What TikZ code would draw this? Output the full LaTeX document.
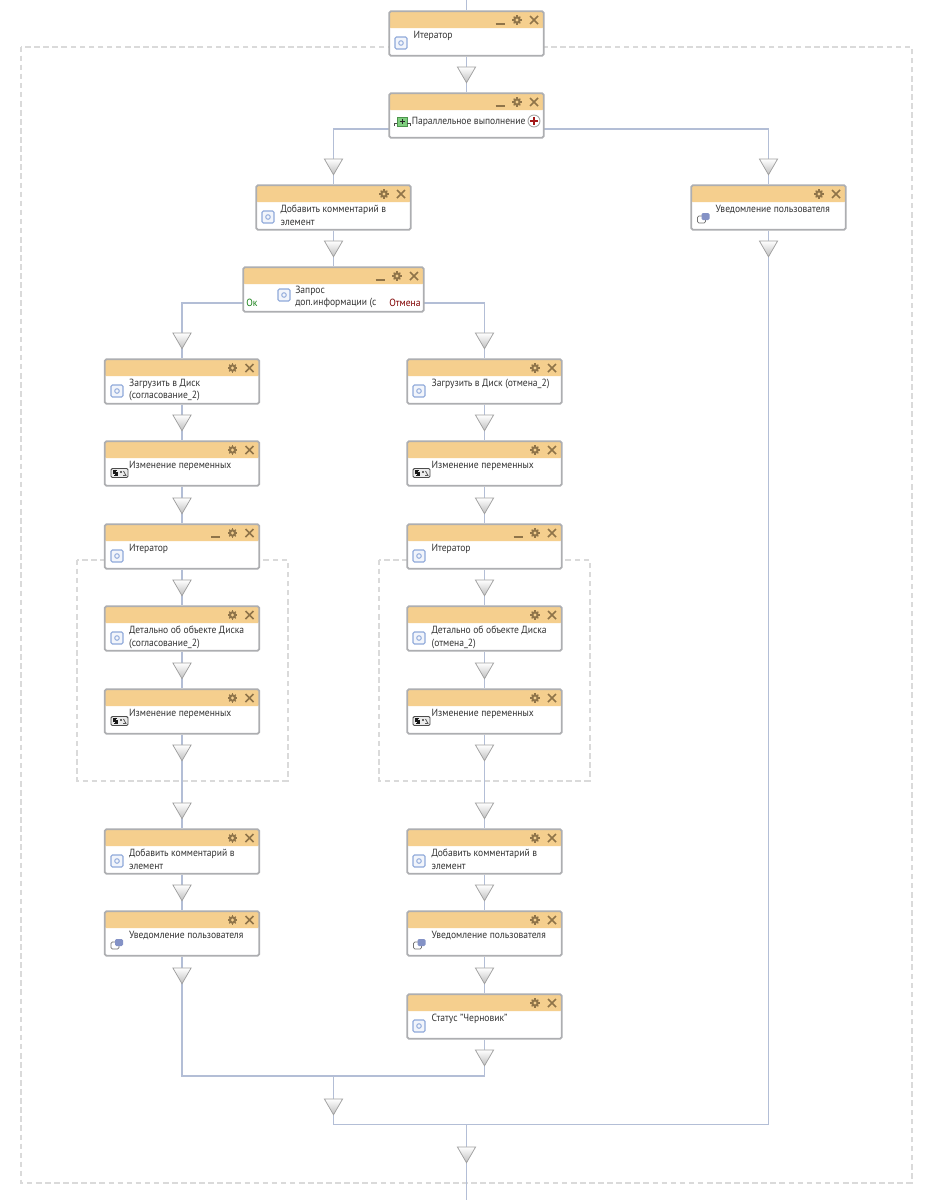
\documentclass[tikz,border=0pt]{standalone}
\usepackage{fontspec}
\setmainfont[FakeStretch=0.92]{PT Sans}
\usetikzlibrary{shapes.geometric}
\pgfdeclarelayer{bg}
\pgfsetlayers{bg,main}
\definecolor{hdr}{HTML}{F5CF8E}
\definecolor{edgeg}{HTML}{ADAEB1}
\definecolor{connc}{HTML}{B3BED6}
\definecolor{dashc}{HTML}{DADADA}
\definecolor{brown}{HTML}{8F7449}
\definecolor{txt}{HTML}{333333}
\definecolor{iconb}{HTML}{8FA9DA}
\definecolor{msgb}{HTML}{8492C6}
\tikzset{
  wfbox/.style={draw=edgeg,line width=1.3pt,rounded corners=1.2pt,fill=white,minimum height=33.4pt,inner sep=0pt,
    path picture={\fill[hdr] (path picture bounding box.north west) rectangle ([yshift=-12.75pt]path picture bounding box.north east);}},
  wftext/.style={anchor=north west,inner sep=0pt,align=left,text=txt,font=\fontsize{7.8}{9.2}\selectfont},
  conn/.style={draw=connc,line width=1.3pt},
  dashbox/.style={draw=dashc,line width=1.5pt,dash pattern=on 4.2pt off 2.6pt},
  tri/.style={regular polygon,regular polygon sides=3,shape border rotate=180,minimum size=15.8pt,inner sep=0pt,draw=gray!75,line width=.55pt,top color=white,bottom color=black!25},
  hicon/.style={draw=brown,line width=1.1pt},
}
% icons (x,y are the centre of the icon)
\newcommand\iconblue[2]{\draw[iconb,fill=iconb!12,line width=.8pt,rounded corners=1pt] ({#1-6},{#2-6}) rectangle ({#1+6},{#2+6});
  \draw[iconb,line width=.7pt] (#1,#2) circle (2.3);}
\newcommand\iconvar[2]{\draw[black!70,fill=black!8,line width=.7pt,rounded corners=1pt] ({#1-8.5},{#2-4.5}) rectangle ({#1+8.5},{#2+4.5});
  \draw[black!90,line width=.8pt] ({#1-2.5},{#2-2.2}) -- ({#1-5.5},{#2-2.2}) -- ({#1-5.5},{#2}) -- ({#1-2.5},{#2}) -- ({#1-2.5},{#2+2.2}) -- ({#1-5.5},{#2+2.2});
  \draw[black!90,line width=.5pt] ({#1-4},{#2-3.4}) -- ({#1-4},{#2+3.4});
  \fill[black!60] ({#1},{#2-2.5}) rectangle ({#1+2.5},{#2});
  \draw[black!65,line width=.6pt] ({#1+4},{#2-2}) -- ({#1+6.5},{#2+2.5}) -- ({#1+3.5},{#2+2.5});}
\newcommand\iconmsg[2]{\draw[black!55,fill=white,line width=.6pt,rounded corners=1pt] ({#1-6},{#2-1}) rectangle ({#1+2},{#2+6});
  \fill[msgb,rounded corners=1pt] ({#1-2},{#2-4}) rectangle ({#1+6},{#2+3});}
\newcommand\iconpar[2]{\fill[green!45!gray!70,draw=green!40!black!70,line width=.4pt] ({#1-5},{#2-4.5}) rectangle ({#1+5},{#2+4.5});
  \draw[black!85,line width=.7pt] ({#1-2.5},#2) -- ({#1+2.5},#2) ({#1},{#2-2.5}) -- ({#1},{#2+2.5});
  \draw[black!70,line width=.5pt] ({#1-7.5},{#2+4.5}) |- ({#1-5},{#2+2}) ({#1+5},{#2+2}) -| ({#1+8},{#2+4.5});}
% #1 name, #2 centre x, #3 top y, #4 width, #5 show minimise, #6 icon commands, #7 text x offset, #8 text
\newcommand\wfblock[8]{%
\begin{scope}[shift={(#2,#3)}]
 \pgfmathsetmacro\hw{#4/2}
 \node[wfbox,minimum width=(#4-.5)*.75pt] (#1) at (0,22.5) {};
 \draw[hicon] ({\hw-14},5) -- ({\hw-6},13) ({\hw-14},13) -- ({\hw-6},5);
 \fill[brown] ({\hw-27},9) circle (3.8);
 \foreach \a in {0,45,...,315}{\draw[brown,line width=1pt] ({\hw-27+3*cos(\a)},{9+3*sin(\a)}) -- ({\hw-27+4.7*cos(\a)},{9+4.7*sin(\a)});}
 \fill[hdr] ({\hw-27},9) circle (1.6);
 \ifnum#5=1 \draw[brown,line width=1.2pt] ({\hw-48.5},13) -- ({\hw-39.5},13);\fi
 #6
 \node[wftext] (#1-label) at ({-\hw+#7},20) {#8};
\end{scope}}
\newcommand\stdblock[6]{\wfblock{#1}{#2}{#3}{155}{#4}{#5}{24.4}{#6}}
\begin{document}
\begin{tikzpicture}[x=.75pt,y=-.75pt]
\useasboundingbox (0,0) rectangle (931,1200);
% dashed containers
\begin{pgfonlayer}{bg}
\fill[white] (0,0) rectangle (931,1200);
\draw[dashbox] (20.5,46.5) rectangle (911.5,1182.5);
\draw[dashbox] (77,559.5) rectangle (287.5,780.5);
\draw[dashbox] (379,559.5) rectangle (589.5,780.5);
\end{pgfonlayer}
% blocks
\stdblock{iter0}{466.5}{11}{1}{\iconblue{-65.5}{32}}{Итератор}
\wfblock{par}{466.5}{93}{155}{1}{\iconpar{-64.5}{28.5}\draw[black!35,fill=white,line width=.7pt] (67.5,28) circle (6);\draw[red!60!black!90,line width=1pt] (63.7,28) -- (71.3,28) (67.5,24.2) -- (67.5,31.8);}{23}{\phantom{}}
\node[wftext] (par-text) at (411.5,116.5) {Параллельное выполнение};
\stdblock{add0}{333.5}{185}{0}{\iconblue{-65.5}{32}}{Добавить комментарий в\\элемент}
\stdblock{notify0}{768.5}{185}{0}{\iconmsg{-65}{32}}{Уведомление пользователя}
\wfblock{req}{333.5}{267}{181}{1}{\iconblue{-49.5}{28}}{39}{\phantom{}}
\node[wftext] (req-text) at (295,285.5) {Запрос\\доп.информации (с};
\node[wftext,text=green!45!black!90] (req-ok) at (246,298.5) {Ок};
\node[wftext,text=red!50!black] (req-cancel) at (389,298.5) {Отмена};
% left column
\stdblock{l1}{182}{359}{0}{\iconblue{-65}{32}}{Загрузить в Диск\\(согласование\_2)}
\stdblock{l2}{182}{441}{0}{\iconvar{-62.5}{32}}{Изменение переменных}
\stdblock{l3}{182}{524}{1}{\iconblue{-65}{32}}{Итератор}
\stdblock{l4}{182}{606}{0}{\iconblue{-65}{32}}{Детально об объекте Диска\\(согласование\_2)}
\stdblock{l5}{182}{689}{0}{\iconvar{-62.5}{32}}{Изменение переменных}
\stdblock{l6}{182}{829}{0}{\iconblue{-65}{32}}{Добавить комментарий в\\элемент}
\stdblock{l7}{182}{911}{0}{\iconmsg{-65}{32}}{Уведомление пользователя}
% right column
\stdblock{r1}{484.5}{359}{0}{\iconblue{-65.5}{32}}{Загрузить в Диск (отмена\_2)}
\stdblock{r2}{484.5}{441}{0}{\iconvar{-63}{32}}{Изменение переменных}
\stdblock{r3}{484.5}{524}{1}{\iconblue{-65.5}{32}}{Итератор}
\stdblock{r4}{484.5}{606}{0}{\iconblue{-65.5}{32}}{Детально об объекте Диска\\(отмена\_2)}
\stdblock{r5}{484.5}{689}{0}{\iconvar{-63}{32}}{Изменение переменных}
\stdblock{r6}{484.5}{829}{0}{\iconblue{-65.5}{32}}{Добавить комментарий в\\элемент}
\stdblock{r7}{484.5}{911}{0}{\iconmsg{-65}{32}}{Уведомление пользователя}
\stdblock{r8}{484.5}{994}{0}{\iconblue{-65.5}{32}}{Статус "Черновик"}
% free connector ends
\coordinate (start) at (466.5,0);
\coordinate (end) at (466.5,1200);
\coordinate (parL) at (389,129);
\coordinate (parR) at (544,129);
\coordinate (reqL) at (243,303);
\coordinate (reqR) at (424,303);
\coordinate (joinM) at (333.5,1076);
\coordinate (joinA) at (333.5,1124.5);
\coordinate (joinC) at (466.5,1124.5);
% connectors
\begin{pgfonlayer}{bg}
\draw[conn] (start) -- (iter0.north);
\draw[conn] (iter0.south) -- (par.north);
\draw[conn] (parL) -| (add0.north);
\draw[conn] (parR) -| (notify0.north);
\draw[conn] (add0.south) -- (req.north);
\draw[conn] (reqL) -| (l1.north);
\draw[conn] (reqR) -| (r1.north);
\foreach \a/\b in {l1/l2,l2/l3,l3/l4,l4/l5,l5/l6,l6/l7,r1/r2,r2/r3,r3/r4,r4/r5,r5/r6,r6/r7,r7/r8}
  \draw[conn] (\a.south) -- (\b.north);
\draw[conn] (l7.south) |- (joinM);
\draw[conn] (r8.south) |- (joinM);
\draw[conn] (joinM) -- (joinA);
\draw[conn] (notify0.south) |- (joinA);
\draw[conn] (joinC) -- (end);
\end{pgfonlayer}
% triangles (top y + 5.2 = centre)
\foreach \n/\x/\y in {a/466.5/67,b/333.5/159,c/768.5/159,d/333.5/241,e/768.5/241,
  f/182/333,g/182/415,h/182/498,i/182/580,j/182/663,k/182/745,m/182/803,n/182/885,o/182/968,
  p/484.5/333,q/484.5/415,r/484.5/498,s/484.5/580,t/484.5/663,u/484.5/745,v/484.5/803,w/484.5/885,x/484.5/968,y/484.5/1050,
  z/333.5/1099,zz/466.5/1147}
  \node[tri] (tri\n) at (\x,{\y+5.2}) {};
\end{tikzpicture}
\end{document}
